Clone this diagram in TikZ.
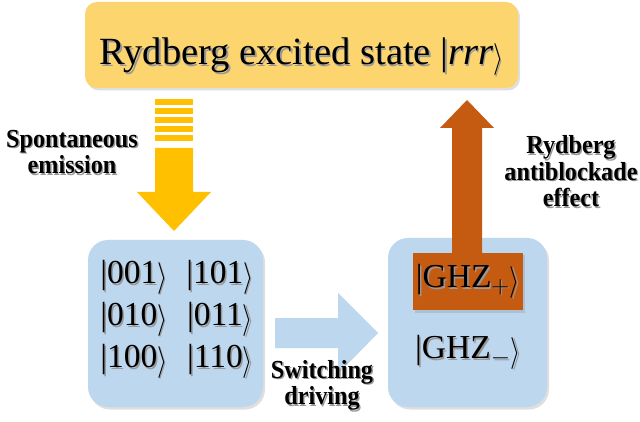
\documentclass[tikz,border=0pt]{standalone}
\usepackage{fontspec}
\setmainfont{Liberation Serif}[BoldFont={Liberation Serif Bold},ItalicFont={Liberation Serif Italic}]
\usetikzlibrary{shadows}
\definecolor{boxyellow}{HTML}{FDD56E}
\definecolor{arrgold}{HTML}{FFC000}
\definecolor{boxblue}{HTML}{BDD7EE}
\definecolor{rustor}{HTML}{C55A11}
\newcommand{\shd}[1]{\leavevmode\rlap{\hspace{1.5pt}\raisebox{-1.5pt}{\textcolor{black!40}{#1}}}#1}
\newcommand{\lbl}[1]{\scalebox{0.93}[1]{\shd{#1}}}
\newcommand{\rang}{\raisebox{-0.07em}{\scalebox{1.05}[1.28]{$\rangle$}}}
\begin{document}
\begin{tikzpicture}[x=1pt,y=-1pt,
  softshadow/.style={drop shadow={opacity=0.25,shadow xshift=2pt,shadow yshift=-2.5pt}},
  topbox/.style={fill=boxyellow,rounded corners=12pt,softshadow},
  bluebox/.style={fill=boxblue,rounded corners=20pt,softshadow},
  ket/.style={font=\fontsize{33.5}{35}\selectfont,inner sep=0pt},
  lab/.style={font=\fontsize{26}{26.5}\selectfont\bfseries,align=center,inner sep=0pt},
  title/.style={font=\fontsize{38.5}{40}\selectfont,inner sep=0pt}]
\useasboundingbox (0,0) rectangle (640,422);
\fill[white] (0,0) rectangle (640,422);
% top box
\path[topbox] (85,2) rectangle (518,88);
\node[title,anchor=base] (top) at (301.5,65) {\shd{Rydberg excited state |\textit{rrr}\rang}};
% spontaneous emission arrow
\fill[arrgold] (155,148)--(193,148)--(193,192)--(211,192)--(174,231)--(137,192)--(155,192)--cycle;
\foreach \i in {0,...,4}{\fill[arrgold] (155,99+9*\i) rectangle (193,105.5+9*\i);}
\node[lab] (spon) at (72,153) {\lbl{Spontaneous}\\\lbl{emission}};
% left box
\path[bluebox] (88,240) rectangle (263,407);
\node[ket] (k1) at (134,278) {\shd{|001\rang}};
\node[ket] (k2) at (220,278) {\shd{|101\rang}};
\node[ket] (k3) at (134,320) {\shd{|010\rang}};
\node[ket] (k4) at (220,320) {\shd{|011\rang}};
\node[ket] (k5) at (134,362) {\shd{|100\rang}};
\node[ket] (k6) at (220,362) {\shd{|110\rang}};
% switching arrow
\fill[boxblue] (275,318)--(338,318)--(338,293)--(378,333)--(338,374)--(338,348)--(275,348)--cycle;
\node[lab] (sw) at (322,386) {\lbl{Switching}\\\lbl{driving}};
% right box
\path[bluebox] (388,238) rectangle (547,407);
\path[fill=rustor,softshadow] (413,253) rectangle (523,310);
\fill[rustor] (452,254)--(452,128)--(440,128)--(467,100)--(494,128)--(482,128)--(482,254)--cycle;
\node[ket] (gp) at (468,282) {\shd{|GHZ$_{+}$\rang}};
\node[ket] (gm) at (468,353) {\shd{|GHZ$_{-}$\rang}};
\node[lab] (ryd) at (571,172) {\lbl{Rydberg}\\\lbl{antiblockade}\\\lbl{effect}};
\end{tikzpicture}
\end{document}
